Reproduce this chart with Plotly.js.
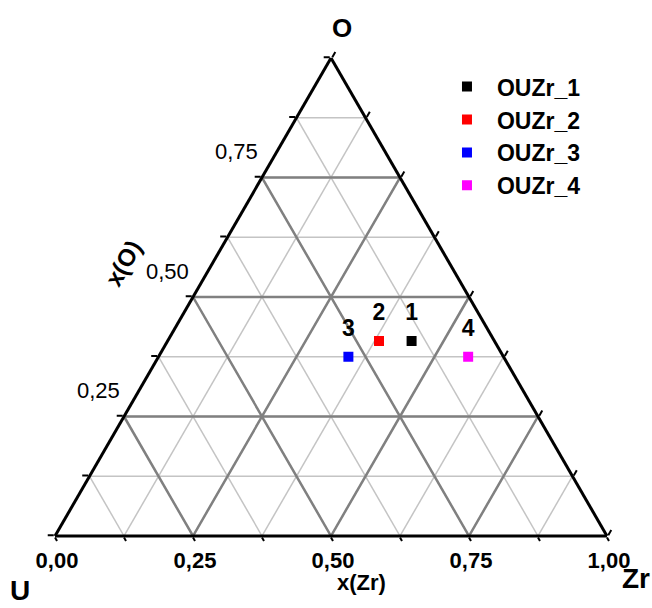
<!DOCTYPE html>
<html>
<head>
<meta charset="utf-8">
<script src="https://cdn.plot.ly/plotly-3.0.1.min.js"></script>
<style>html,body{margin:0;padding:0;background:#fff;}#chart{width:652px;height:608px;}</style>
</head>
<body>
<div id="chart"></div>
<script>
// ---- data (mole fractions) ----
const seriesNames = ['OUZr_1', 'OUZr_2', 'OUZr_3', 'OUZr_4'];
const pointLabels = ['1', '2', '3', '4'];
const oValues  = [0.408, 0.408, 0.375, 0.375];
const uValues  = [0.150, 0.209, 0.281, 0.064];
const zrValues = [0.442, 0.383, 0.344, 0.561];
const seriesColors = ['#000000', '#ff0000', '#0000ff', '#ff00ff'];
// axis ticks
const tickSteps = [0, 0.125, 0.25, 0.375, 0.5, 0.625, 0.75, 0.875, 1];
const majorGrid = [0.25, 0.5, 0.75];
const leftTickValues = [0.25, 0.5, 0.75];
const leftTickLabels = ['0,25', '0,50', '0,75'];
const bottomTickText = ['1,00', '', '0,75', '', '0,50', '', '0,25', '', '0,00']; // Zr = 1 - U along the base

const FONT = 'Liberation Sans, Arial, sans-serif';
const LEFT_LABEL_NUDGE = 0.011;   // small shift along the left edge for the O tick labels
const traces = [];

// darker grid lines at the 0.25 steps
majorGrid.forEach(v => {
  traces.push({type:'scatterternary', mode:'lines', a:[v, v], b:[1-v, 0], c:[0, 1-v],
    line:{color:'#808080', width:2.5}, showlegend:false, hoverinfo:'skip'});
  traces.push({type:'scatterternary', mode:'lines', a:[1-v, 0], b:[v, v], c:[0, 1-v],
    line:{color:'#808080', width:2.5}, showlegend:false, hoverinfo:'skip'});
  traces.push({type:'scatterternary', mode:'lines', a:[1-v, 0], b:[0, 1-v], c:[v, v],
    line:{color:'#808080', width:2.5}, showlegend:false, hoverinfo:'skip'});
});

// O tick labels on the left edge
const leftA = leftTickValues.map(v => v + LEFT_LABEL_NUDGE);
traces.push({type:'scatterternary', mode:'markers+text', showlegend:false, hoverinfo:'skip',
  a:leftA, b:leftA.map(v => 1 - v), c:leftA.map(() => 0),
  text:leftTickLabels, textposition:'top left', cliponaxis:false,
  marker:{size:10, opacity:0},
  textfont:{family:FONT, size:22, color:'#000'}});

// points
seriesNames.forEach((name, i) => {
  traces.push({type:'scatterternary', mode:'markers', name:name,
    a:[oValues[i]], b:[uValues[i]], c:[zrValues[i]],
    marker:{symbol:'square', size:10, color:seriesColors[i]}, cliponaxis:false});
});
// point numbers
traces.push({type:'scatterternary', mode:'markers+text', showlegend:false, hoverinfo:'skip',
  a:oValues, b:uValues, c:zrValues, text:pointLabels, textposition:'top center',
  marker:{size:22, opacity:0}, cliponaxis:false,
  textfont:{family:FONT, size:23, color:'#000', weight:'bold'}});

const axisBase = {
  min:0, linecolor:'#000', linewidth:3, showgrid:true, gridcolor:'#c4c4c4', gridwidth:1.5,
  tickmode:'array', tickvals:tickSteps, ticks:'outside', ticklen:6, tickwidth:2, tickcolor:'#000',
  tickfont:{family:FONT, size:20, color:'#000'}
};

const layout = {
  width:652, height:608,
  margin:{l:55, r:45, t:58, b:72},
  paper_bgcolor:'#fff',
  font:{family:FONT, color:'#000'},
  showlegend:true,
  legend:{x:0.692, y:0.985, xanchor:'left', yanchor:'top', bgcolor:'rgba(0,0,0,0)',
    font:{family:FONT, size:23, color:'#000', weight:'bold'}, itemwidth:50},
  ternary:{
    sum:1, bgcolor:'#fff',
    domain:{x:[0,1], y:[0,1]},
    aaxis:Object.assign({}, axisBase, {title:{text:''}, showticklabels:false}),
    baxis:Object.assign({}, axisBase, {title:{text:''}, ticklen:4,
      ticktext:bottomTickText, tickfont:{family:FONT, size:22, color:'#000', weight:'bold'}}),
    caxis:Object.assign({}, axisBase, {title:{text:'Zr', font:{family:FONT, size:28, weight:'bold'}},
      showticklabels:false})
  },
  annotations:[
    {text:'O', xref:'paper', yref:'paper', x:0.52, y:1.063, xanchor:'center', yanchor:'middle',
      showarrow:false, font:{family:FONT, size:26, weight:'bold', color:'#000'}},
    {text:'x(Zr)', xref:'paper', yref:'paper', x:0.556, y:-0.0983, xanchor:'center', yanchor:'middle',
      showarrow:false, font:{family:FONT, size:22, weight:'bold', color:'#000'}},
    {text:'x(O)', xref:'paper', yref:'paper', x:0.123, y:0.571, xanchor:'center', yanchor:'middle',
      showarrow:false, textangle:-60, font:{family:FONT, size:24, weight:'bold', color:'#000'}},
    {text:'U', xref:'paper', yref:'paper', x:-0.063, y:-0.113, xanchor:'center', yanchor:'middle',
      showarrow:false, font:{family:FONT, size:28, weight:'bold', color:'#000'}}
  ]
};

Plotly.newPlot('chart', traces, layout, {displayModeBar:false, staticPlot:true});
</script>
</body>
</html>
